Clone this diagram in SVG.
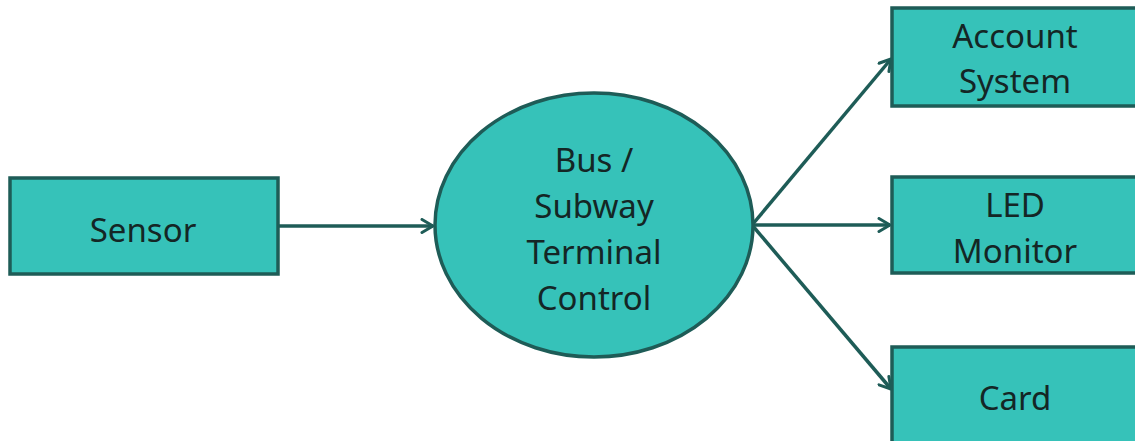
<svg xmlns="http://www.w3.org/2000/svg" width="1135" height="441" viewBox="0 0 1135 441">
<style>
.box{fill:#36c2b9;stroke:#1e5c57;stroke-width:3.5}
.lbl{font-family:"Noto Sans","Open Sans",sans-serif;font-size:33px;fill:#142625;text-anchor:middle}
.conn{stroke:#1e5c57;stroke-width:3.5;fill:none;marker-end:url(#arr)}
</style>
<defs>
<marker id="arr" viewBox="0 0 16 16" refX="14" refY="8" markerWidth="16" markerHeight="16" markerUnits="userSpaceOnUse" orient="auto">
<path d="M3,1.5 L14,8 L3,14.5" fill="none" stroke="#1e5c57" stroke-width="3" stroke-linecap="round" stroke-linejoin="round"/>
</marker>
</defs>
<rect width="1135" height="441" fill="#ffffff"/>
<g id="connectors">
<line class="conn" x1="278" y1="226" x2="433" y2="226"/>
<line class="conn" x1="752" y1="225" x2="891" y2="59"/>
<line class="conn" x1="752" y1="225" x2="890" y2="225"/>
<line class="conn" x1="752" y1="225" x2="891" y2="389"/>
</g>
<g id="sensor">
<rect class="box" x="10" y="178" width="268" height="96"/>
<text class="lbl" x="143" y="242">Sensor</text>
</g>
<g id="terminal">
<ellipse class="box" cx="594" cy="225" rx="159" ry="132"/>
<text class="lbl" x="594" y="172">Bus /</text>
<text class="lbl" x="594" y="218">Subway</text>
<text class="lbl" x="594" y="264">Terminal</text>
<text class="lbl" x="594" y="310">Control</text>
</g>
<g id="account">
<rect class="box" x="892" y="8" width="268" height="98"/>
<text class="lbl" x="1015" y="48">Account</text>
<text class="lbl" x="1015" y="93">System</text>
</g>
<g id="led">
<rect class="box" x="892" y="177" width="268" height="96"/>
<text class="lbl" x="1015" y="217">LED</text>
<text class="lbl" x="1015" y="263">Monitor</text>
</g>
<g id="card">
<rect class="box" x="892" y="347" width="268" height="110"/>
<text class="lbl" x="1015" y="410">Card</text>
</g>
</svg>
